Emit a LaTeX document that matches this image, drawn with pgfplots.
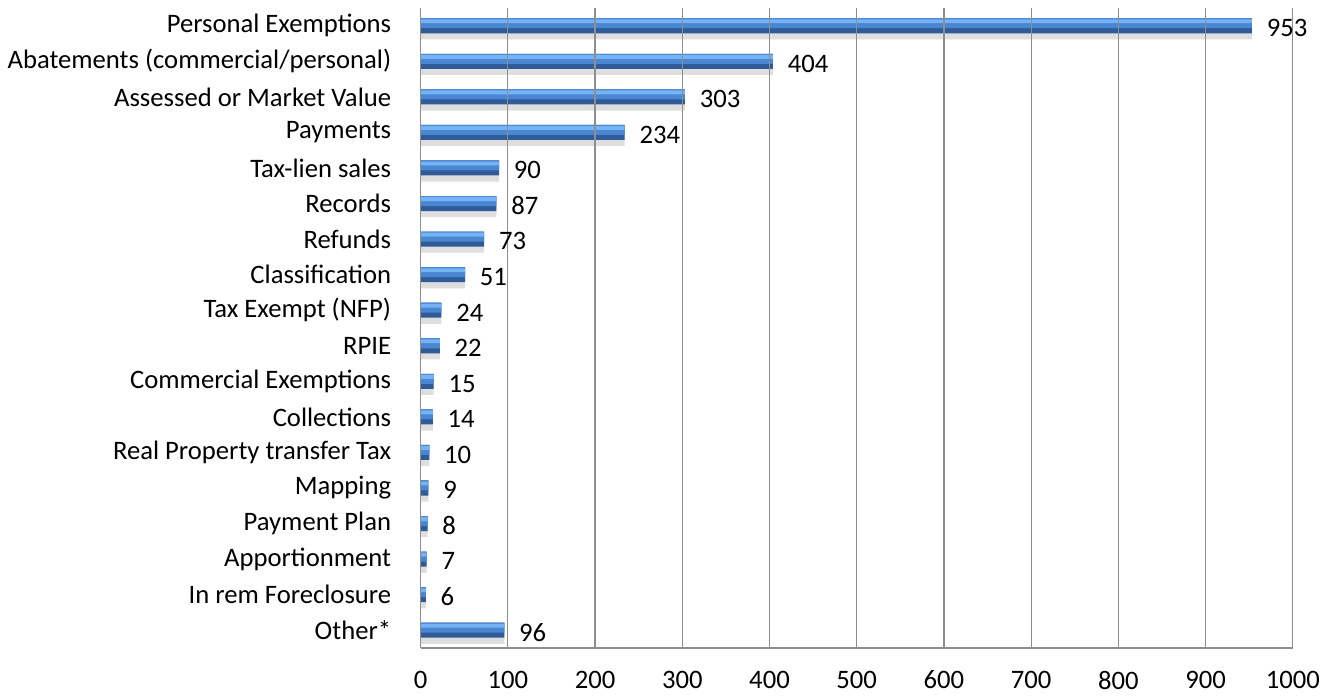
\documentclass[border=0pt]{standalone}
\usepackage{pgfplots}
\pgfplotsset{compat=1.18}
\usepackage{pgfplotstable}
\usepackage{fontspec}
\setmainfont{Carlito}

\definecolor{barhi}{HTML}{74B4F4}
\definecolor{barmid}{HTML}{4A86D2}
\definecolor{barlo}{HTML}{2F5C98}
\definecolor{gridc}{HTML}{8E8E8E}

% row index (0 = top), count of complaints
\pgfplotstableread[col sep=comma]{
idx,val
0,953
1,404
2,303
3,234
4,90
5,87
6,73
7,51
8,24
9,22
10,15
11,14
12,10
13,9
14,8
15,7
16,6
17,96
}\complaints

\begin{document}
\begin{tikzpicture}
\begin{axis}[
  scale only axis, width=383pt, height=281pt,
  xmin=0, xmax=1000, ymin=-0.5, ymax=17.5, y dir=reverse,
  axis x line*=bottom, axis y line*=left,
  axis on top,
  axis line style={draw=gridc, line width=0.6pt},
  xtick={0,100,...,1000}, xmajorgrids,
  grid style={draw=gridc, line width=0.5pt},
  major x tick style={draw=none},
  ytick={0,...,17},
  yticklabels={Personal Exemptions, Abatements (commercial/personal), Assessed or Market Value, Payments, Tax-lien sales, Records, Refunds, Classification, Tax Exempt (NFP), RPIE, Commercial Exemptions, Collections, Real Property transfer Tax, Mapping, Payment Plan, Apportionment, In rem Foreclosure, Other*},
  major y tick style={draw=none},
  extra y ticks={-0.5,0.5,...,17.5},
  extra y tick labels={},
  extra y tick style={tick align=outside, major tick length=3.5pt, tick style={draw=gridc, line width=0.6pt}},
  /pgf/number format/assume math mode=true,
  /pgf/number format/1000 sep={},
  tick label style={font=\fontsize{11.7}{14}\selectfont},
  yticklabel style={xshift=-9.4pt},
  xticklabel style={yshift=-6.5pt},
  clip=false,
]
% soft shadow under the bars
\addplot[xbar, bar width=7pt, bar shift=-2.5pt, fill=black, opacity=0.13, draw=none, forget plot]
  table[x=val, y=idx] {\complaints};
% bar body: dark base, mid-blue upper part, light highlight
\addplot[xbar, bar width=6.6pt, bar shift=0pt, fill=barlo, draw=none, forget plot]
  table[x=val, y=idx] {\complaints};
\addplot[xbar, bar width=4.4pt, bar shift=1.1pt, fill=barmid, draw=none, forget plot]
  table[x=val, y=idx] {\complaints};
\addplot[xbar, bar width=1.7pt, bar shift=1.95pt, fill=barhi, draw=none,
  nodes near coords,
  every node near coord/.append style={anchor=west, xshift=3pt, yshift=-1pt, text=black, font=\fontsize{11.7}{14}\selectfont}]
  table[x=val, y=idx] {\complaints};
\end{axis}
% margins of the page round the chart
\path ([xshift=19.8pt, yshift=3.5pt]current axis.north east);
\path ([xshift=-183.6pt, yshift=-22pt]current axis.south west);
\end{tikzpicture}
\end{document}
